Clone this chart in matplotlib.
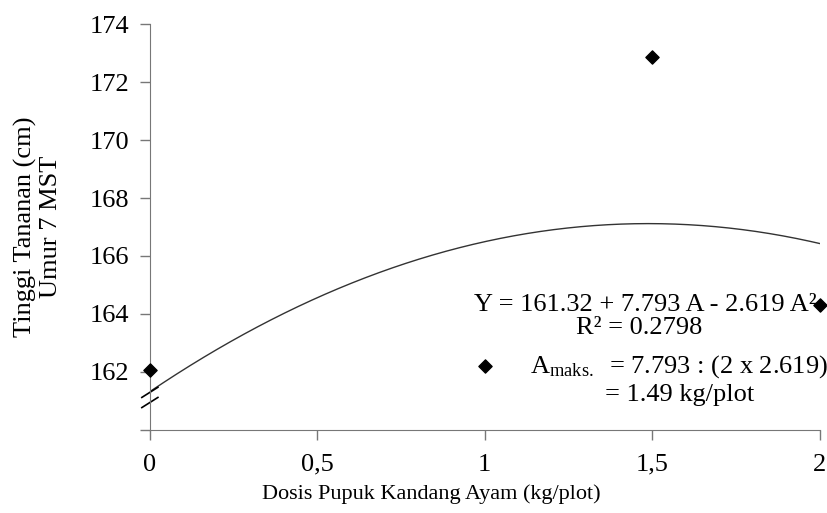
import numpy as np
import matplotlib.pyplot as plt

plt.rcParams['font.family'] = ['Liberation Serif', 'DejaVu Serif']
plt.rcParams['mathtext.fontset'] = 'custom'
plt.rcParams['mathtext.rm'] = 'Liberation Serif'
plt.rcParams['mathtext.it'] = 'Liberation Serif:italic'

# Data
dosis = [0, 1, 1.5, 2]
tinggi = [162.05, 162.2, 172.85, 164.3]

# Regression coefficients
b0, b1, b2 = 161.32, 7.793, -2.619

x_ticks = [0, 0.5, 1, 1.5, 2]
x_labels = ["0", "0,5", "1", "1,5", "2"]
y_ticks = [160, 162, 164, 166, 168, 170, 172, 174]
y_labels = ["", "162", "164", "166", "168", "170", "172", "174"]

fig = plt.figure(figsize=(8.28, 5.13), dpi=100)
ax = fig.add_axes([0.181, 0.162, 0.809, 0.791])

xs = np.linspace(0, 2, 200)
ax.plot(xs, b0 + b1 * xs + b2 * xs ** 2, color="#333333", lw=1)
ax.scatter(dosis, tinggi, marker="D", s=45, color="black", zorder=3, clip_on=False)

ax.set_xlim(0, 2)
ax.set_ylim(160, 174)
ax.set_xticks(x_ticks)
ax.set_xticklabels(x_labels)
ax.set_yticks(y_ticks)
ax.set_yticklabels(y_labels)
ax.tick_params(labelsize=19, color="#777777", length=7, width=1)
ax.tick_params(axis="x", pad=10)
ax.tick_params(axis="y", pad=8)
for s in ["top", "right"]:
    ax.spines[s].set_visible(False)
for s in ["left", "bottom"]:
    ax.spines[s].set_color("#777777")

ax.set_ylabel("Tinggi Tananan (cm)\nUmur 7 MST", fontsize=19, linespacing=1.2)
ax.yaxis.set_label_coords(-0.131, 0.5)
ax.set_xlabel("Dosis Pupuk Kandang Ayam (kg/plot)", fontsize=16)
ax.xaxis.set_label_coords(0.42, -0.135)

# axis break marks
for dy in (0.0, 0.025):
    ax.plot([-0.012, 0.012], [0.055 + dy, 0.08 + dy], transform=ax.transAxes,
            color="black", lw=1.2, clip_on=False)

ax.text(0.739, 0.308, "Y = 161.32 + 7.793 A - 2.619 A²", transform=ax.transAxes,
        fontsize=19, ha="center", va="center")
ax.text(0.730, 0.251, "R² = 0.2798", transform=ax.transAxes,
        fontsize=19, ha="center", va="center")
ax.text(0.567, 0.155, r"A$_{\mathrm{maks.}}$  = 7.793 : (2 x 2.619)", transform=ax.transAxes,
        fontsize=19, ha="left", va="center")
ax.text(0.679, 0.086, "= 1.49 kg/plot", transform=ax.transAxes,
        fontsize=19, ha="left", va="center")

fig.savefig("out.png", dpi=100)
